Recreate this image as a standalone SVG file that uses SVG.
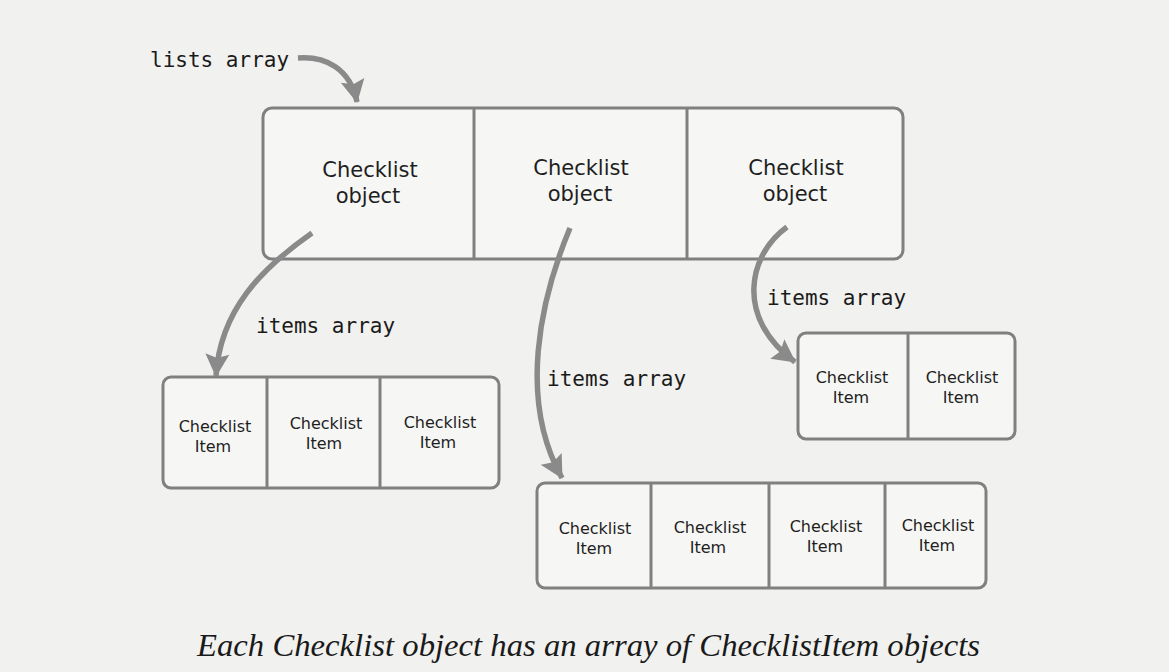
<svg xmlns="http://www.w3.org/2000/svg" width="1169" height="672" viewBox="0 0 1169 672">
<style>
.box{fill:#f6f6f4;stroke:#808080;stroke-width:3}
.div{stroke:#808080;stroke-width:3}
.obj{font-family:"DejaVu Sans",Verdana,sans-serif;font-size:21px;fill:#1e1e1e;text-anchor:middle}
.item{font-family:"DejaVu Sans",Verdana,sans-serif;font-size:16px;fill:#1e1e1e;text-anchor:middle}
.mono{font-family:"DejaVu Sans Mono","Liberation Mono",monospace;font-size:21px;fill:#1a1a1a}
.arr{fill:none;stroke:#8a8a8a;stroke-width:5.5;stroke-linecap:butt}
.cap{font-family:"Liberation Serif","Times New Roman",serif;font-style:italic;font-size:31px;fill:#1a1a1a}
</style>
<defs>
<marker id="ah" markerUnits="userSpaceOnUse" markerWidth="28" markerHeight="28" viewBox="0 0 28 28" refX="23" refY="14" orient="auto">
<path d="M1,2 L24,14 L1,26 L5,14 Z" fill="#8a8a8a"/>
</marker>
</defs>
<rect width="1169" height="672" fill="#f1f1ef"/>

<g id="lists-label"><text class="mono" x="150" y="67">lists array</text></g>

<g id="lists">
<rect class="box" x="263" y="108" width="640" height="151" rx="9"/>
<line class="div" x1="474" y1="108" x2="474" y2="259"/>
<line class="div" x1="687" y1="108" x2="687" y2="259"/>
<text class="obj" x="370" y="177">Checklist</text><text class="obj" x="368" y="203">object</text>
<text class="obj" x="581" y="175">Checklist</text><text class="obj" x="580" y="201">object</text>
<text class="obj" x="796" y="175">Checklist</text><text class="obj" x="795" y="201">object</text>
</g>

<g id="items1">
<rect class="box" x="163" y="377" width="336" height="111" rx="8"/>
<line class="div" x1="267" y1="377" x2="267" y2="488"/>
<line class="div" x1="380" y1="377" x2="380" y2="488"/>
<text class="item" x="215" y="432">Checklist</text><text class="item" x="213" y="452">Item</text>
<text class="item" x="326" y="429">Checklist</text><text class="item" x="324" y="449">Item</text>
<text class="item" x="440" y="428">Checklist</text><text class="item" x="438" y="448">Item</text>
</g>

<g id="items2">
<rect class="box" x="537" y="483" width="449" height="105" rx="8"/>
<line class="div" x1="651" y1="483" x2="651" y2="588"/>
<line class="div" x1="769" y1="483" x2="769" y2="588"/>
<line class="div" x1="885" y1="483" x2="885" y2="588"/>
<text class="item" x="595" y="534">Checklist</text><text class="item" x="594" y="554">Item</text>
<text class="item" x="710" y="533">Checklist</text><text class="item" x="708" y="553">Item</text>
<text class="item" x="826" y="532">Checklist</text><text class="item" x="825" y="552">Item</text>
<text class="item" x="938" y="531">Checklist</text><text class="item" x="937" y="551">Item</text>
</g>

<g id="items3">
<rect class="box" x="798" y="333" width="217" height="106" rx="8"/>
<line class="div" x1="908" y1="333" x2="908" y2="439"/>
<text class="item" x="852" y="383">Checklist</text><text class="item" x="851" y="403">Item</text>
<text class="item" x="962" y="383">Checklist</text><text class="item" x="961" y="403">Item</text>
</g>

<g id="labels">
<text class="mono" x="256" y="333">items array</text>
<text class="mono" x="547" y="386">items array</text>
<text class="mono" x="767" y="305">items array</text>
</g>

<g id="connectors">
<path class="arr" marker-end="url(#ah)" d="M298,58 C325,56 350,68 357,102"/>
<path class="arr" marker-end="url(#ah)" d="M312,233 C262,268 220,310 216,376"/>
<path class="arr" marker-end="url(#ah)" d="M570,228 C540,300 518,400 562,478"/>
<path class="arr" marker-end="url(#ah)" d="M787,227 C748,255 735,318 795,362"/>
</g>

<g id="caption">
<text class="cap" x="197" y="656" textLength="783" lengthAdjust="spacingAndGlyphs">Each Checklist object has an array of ChecklistItem objects</text>
</g>
</svg>
